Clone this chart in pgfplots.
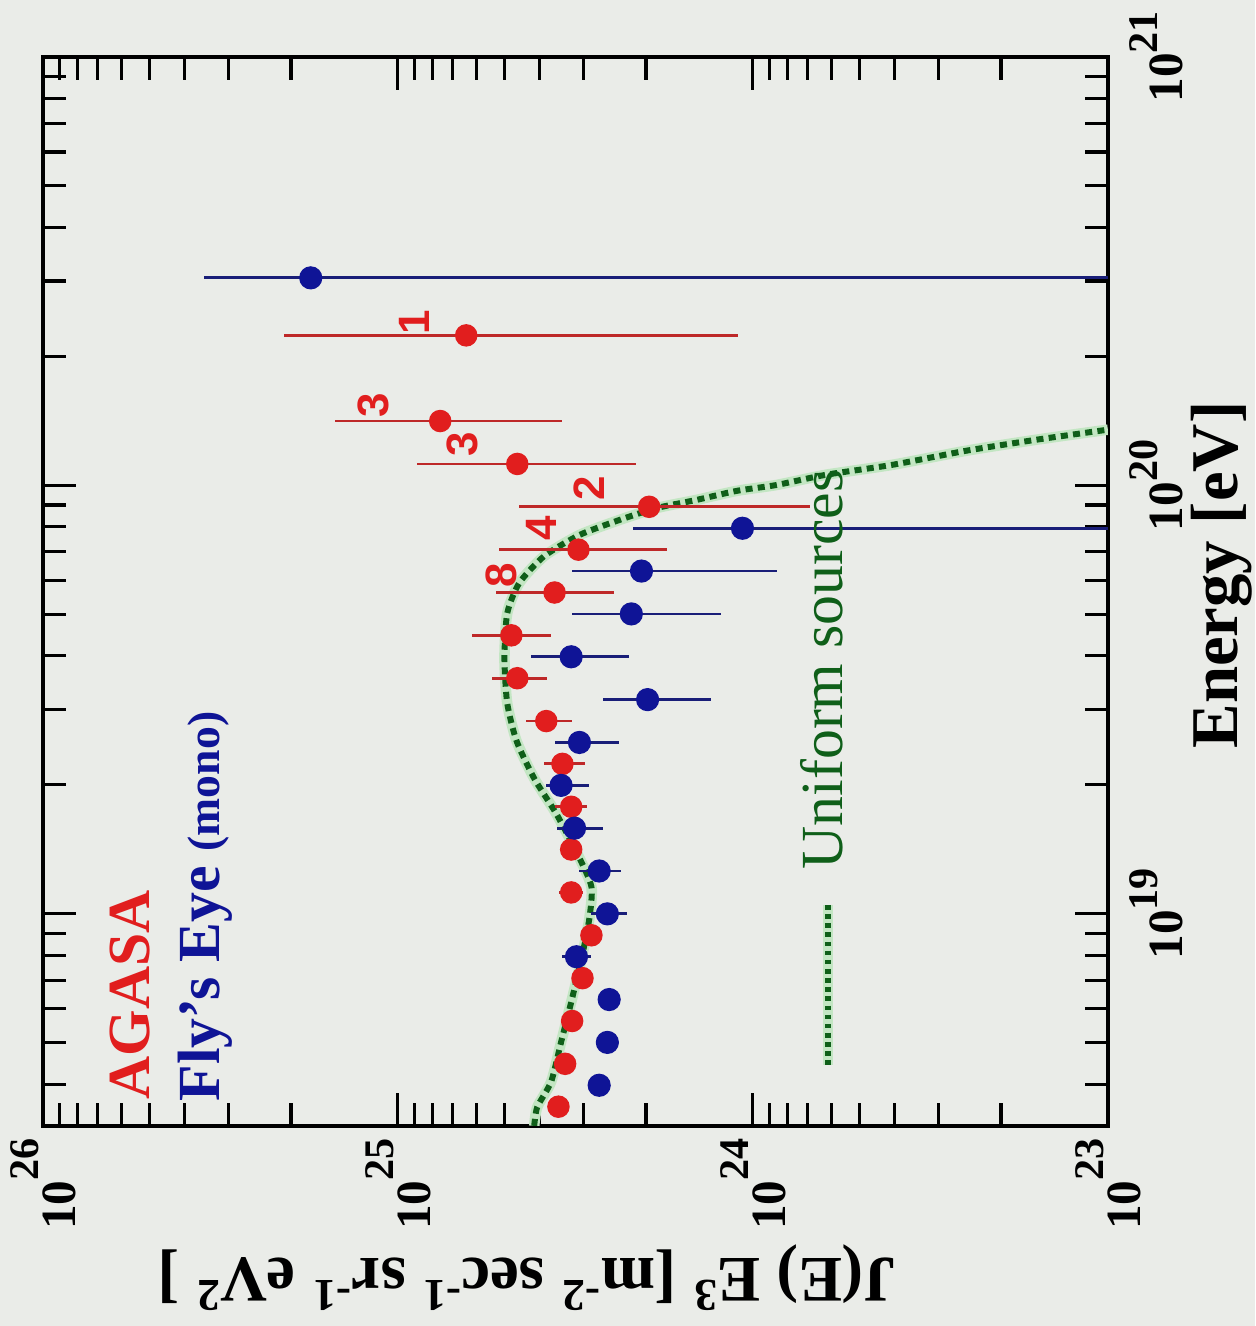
\documentclass[border=0pt]{standalone}
\usepackage{pgfplots}
\pgfplotsset{compat=1.18}
\usepackage{fontspec}
\setmainfont{Liberation Serif}
\newfontfamily\numfont{Liberation Sans}
\definecolor{bgc}{RGB}{234,236,232}
\definecolor{agred}{RGB}{225,30,30}
\definecolor{agbar}{RGB}{190,40,40}
\definecolor{feblue}{RGB}{15,20,150}
\definecolor{febar}{RGB}{25,30,120}
\definecolor{ugreen}{RGB}{15,95,25}
\definecolor{uhalo}{RGB}{195,230,195}
\newcommand{\jlab}[1]{10\raisebox{0.75em}{\fontsize{12}{12}\selectfont #1}}
\newcommand{\elab}[1]{10\raisebox{0.5em}{\fontsize{12}{12}\selectfont #1}}
\begin{document}
\begin{tikzpicture}
\fill[bgc] (-5.755,-7.345) rectangle (6.795,5.915);
\begin{axis}[
  at={(0,0)}, anchor=center, scale only axis,
  width=10.65cm, height=10.69cm,
  xmode=log, ymode=log, x dir=reverse,
  xmin=1e23, xmax=1e26, ymin=3.2e18, ymax=1e21,
  axis line style={line width=1pt},
  tick align=inside,
  major tick length=3.3mm, minor tick length=2.3mm,
  every tick/.append style={black, line width=0.9pt},
  xtick={1e23,1e24,1e25,1e26},
  xticklabels={\jlab{23},\jlab{24},\jlab{25},\jlab{26}},
  minor xtick={2e23,3e23,4e23,5e23,6e23,7e23,8e23,9e23,2e24,3e24,4e24,5e24,6e24,7e24,8e24,9e24,2e25,3e25,4e25,5e25,6e25,7e25,8e25,9e25},
  ytick={1e19,1e20,1e21},
  yticklabels={\elab{19},\elab{20},\elab{21}},
  minor ytick={4e18,5e18,6e18,7e18,8e18,9e18,2e19,3e19,4e19,5e19,6e19,7e19,8e19,9e19,2e20,3e20,4e20,5e20,6e20,7e20,8e20,9e20},
  yticklabel pos=right,
  tick label style={font=\fontsize{14}{16}\selectfont\bfseries},
  xticklabel style={rotate=90, anchor=east},
  yticklabel style={rotate=90, anchor=north, inner ysep=6pt},
]
% Uniform sources curve
\addplot[uhalo, line width=3pt, smooth, tension=0.4] table[x=J, y=E] {
J E
4.13e24 3.20e18
4.05e24 3.54e18
3.70e24 4.06e18
3.47e24 5.02e18
3.25e24 6.22e18
3.04e24 7.85e18
2.89e24 9.73e18
2.85e24 1.157e19
3.12e24 1.380e19
3.58e24 1.713e19
4.13e24 2.07e19
4.63e24 2.53e19
4.92e24 3.10e19
5.01e24 3.95e19
4.92e24 5.03e19
4.55e24 5.92e19
3.87e24 6.84e19
3.08e24 7.66e19
2.38e24 8.30e19
1.87e24 8.85e19
1.44e24 9.25e19
1.11e24 9.71e19
8.58e23 1.002e20
6.21e23 1.059e20
4.04e23 1.117e20
2.50e23 1.205e20
1.58e23 1.279e20
1.00e23 1.349e20
};
\addplot[ugreen, line width=1.7pt, dash pattern=on 2pt off 1.5pt, smooth, tension=0.4] table[x=J, y=E] {
J E
4.13e24 3.20e18
4.05e24 3.54e18
3.70e24 4.06e18
3.47e24 5.02e18
3.25e24 6.22e18
3.04e24 7.85e18
2.89e24 9.73e18
2.85e24 1.157e19
3.12e24 1.380e19
3.58e24 1.713e19
4.13e24 2.07e19
4.63e24 2.53e19
4.92e24 3.10e19
5.01e24 3.95e19
4.92e24 5.03e19
4.55e24 5.92e19
3.87e24 6.84e19
3.08e24 7.66e19
2.38e24 8.30e19
1.87e24 8.85e19
1.44e24 9.25e19
1.11e24 9.71e19
8.58e23 1.002e20
6.21e23 1.059e20
4.04e23 1.117e20
2.50e23 1.205e20
1.58e23 1.279e20
1.00e23 1.349e20
};
% AGASA
\addplot[only marks, mark=*, mark size=3pt, mark options={draw=agred, fill=agred},
  error bars/.cd, x dir=both, x explicit, error mark=none,
  error bar style={agbar, line width=0.8pt}]
  table[x=J, y=E, x error plus=ep, x error minus=em] {
J E ep em
3.53e24 3.548e18 0 0
3.38e24 4.467e18 0 0
3.23e24 5.623e18 0 0
3.02e24 7.079e18 0 0
2.85e24 8.913e18 0 0
3.25e24 1.122e19 0.26e24 0.24e24
3.25e24 1.413e19 0.22e24 0.21e24
3.25e24 1.778e19 0.35e24 0.32e24
3.44e24 2.239e19 0.43e24 0.46e24
3.82e24 2.818e19 0.53e24 0.59e24
4.61e24 3.548e19 0.81e24 0.82e24
4.79e24 4.467e19 1.39e24 1.09e24
3.62e24 5.623e19 1.66e24 1.16e24
3.10e24 7.079e19 2.08e24 1.35e24
1.96e24 8.913e19 2.59e24 1.27e24
4.61e24 1.122e20 4.22e24 2.48e24
7.60e24 1.413e20 7.40e24 4.16e24
6.42e24 2.239e20 1.448e25 5.32e24
};
% Fly's Eye
\addplot[only marks, mark=*, mark size=3.1pt, mark options={draw=feblue, fill=feblue},
  error bars/.cd, x dir=both, x explicit, error mark=none,
  error bar style={febar, line width=0.8pt}]
  table[x=J, y=E, x error plus=ep, x error minus=em] {
J E ep em
2.71e24 3.981e18 0 0
2.57e24 5.012e18 0 0
2.54e24 6.310e18 0 0
3.14e24 7.943e18 0.32e24 0.29e24
2.57e24 1.000e19 0.28e24 0.30e24
2.71e24 1.259e19 0.37e24 0.36e24
3.18e24 1.585e19 0.38e24 0.53e24
3.47e24 1.995e19 0.35e24 0.58e24
3.08e24 2.512e19 0.54e24 0.70e24
1.98e24 3.162e19 0.67e24 0.67e24
3.25e24 3.981e19 0.96e24 1.02e24
2.20e24 5.012e19 1.03e24 0.97e24
2.06e24 6.310e19 1.17e24 1.202e24
1.07e24 7.943e19 1.11e24 1.06e24
1.76e25 3.05e20 1.76e25 1.759e25
};
% event counts
\begin{scope}[every node/.style={rotate=90, text=agred, font=\numfont\bfseries\fontsize{12.5}{14}\selectfont, inner sep=0pt}]
\node at (axis cs:9.0e24,2.40e20) {1};
\node at (axis cs:1.175e25,1.54e20) {3};
\node at (axis cs:6.59e24,1.245e20) {3};
\node at (axis cs:2.89e24,9.82e19) {2};
\node at (axis cs:3.94e24,7.96e19) {4};
\node at (axis cs:5.12e24,6.18e19) {8};
\end{scope}
\end{axis}
% legend texts
\node[rotate=90, anchor=west, inner sep=0pt, text=agred, font=\fontsize{17}{20}\selectfont\bfseries] at (-4.455,-5.085) {AGASA};
\node[rotate=90, anchor=west, inner sep=0pt, text=feblue, font=\fontsize{17}{20}\selectfont\bfseries] at (-3.705,-5.105) {Fly's Eye {\fontsize{13}{15}\selectfont (mono)}};
\node[rotate=90, anchor=west, inner sep=0pt, text=ugreen, font=\fontsize{17}{20}\selectfont] at (2.465,-2.785) {Uniform sources};
\draw[uhalo, line width=2.6pt] (2.525,-3.135) -- (2.525,-4.735);
\draw[ugreen, line width=1.5pt, dash pattern=on 1.3pt off 1.3pt] (2.525,-3.135) -- (2.525,-4.735);
% axis titles
\node[rotate=180, font=\fontsize{18.5}{22}\selectfont\bfseries] at (-0.485,-6.865) {J(E) E\textsuperscript{3} [m\textsuperscript{-2} sec\textsuperscript{-1} sr\textsuperscript{-1} eV\textsuperscript{2} ]};
\node[rotate=90, font=\fontsize{19}{22}\selectfont\bfseries] at (6.465,0.165) {Energy [eV]};
\pgfresetboundingbox
\path[use as bounding box] (-5.755,-7.345) rectangle (6.795,5.915);
\end{tikzpicture}
\end{document}
